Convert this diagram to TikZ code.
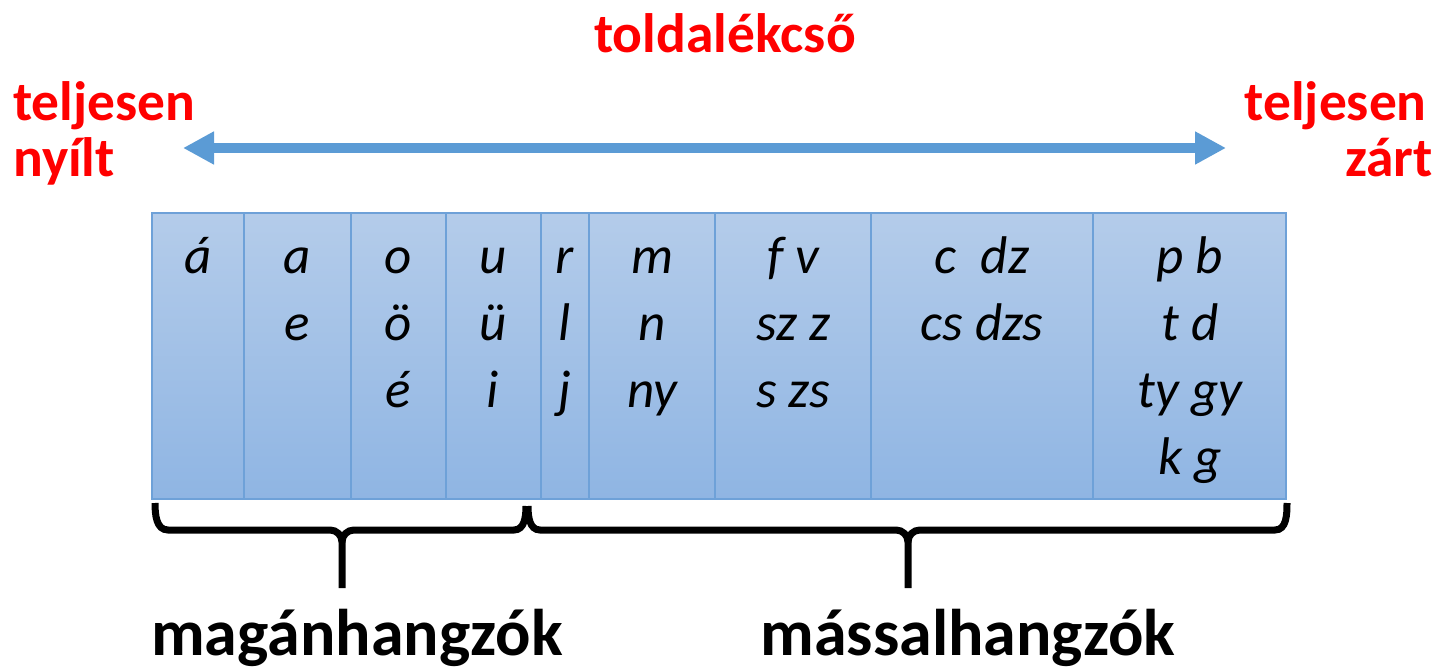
\documentclass[tikz,border=0pt]{standalone}
\usepackage{fontspec}
\setmainfont{Carlito}
\usetikzlibrary{arrows.meta, positioning}

\definecolor{scaleblue}{RGB}{91,155,213}
\definecolor{boxtop}{RGB}{180,204,234}
\definecolor{boxbottom}{RGB}{143,181,227}
\definecolor{boxline}{RGB}{110,161,216}

\begin{document}
\begin{tikzpicture}[x=1pt,y=-1pt,
	redlabel/.style={text=red,font=\fontsize{55.5}{60}\selectfont\bfseries,inner sep=0pt},
	hang/.style={font=\fontsize{53}{60}\selectfont\itshape,inner sep=0pt,anchor=base},
	groupname/.style={font=\fontsize{66}{70}\selectfont\bfseries,inner sep=0pt,anchor=base},
	bracket/.style={line width=7pt}]
	
	\useasboundingbox (0,0) rectangle (1438,671);
	
	% labels above
	\node (chain) [redlabel, anchor=base] at (725,53) {toldalékcső};
	\node (open1) [redlabel, anchor=base west] at (13,121) {teljesen};
	\node (open2) [redlabel, anchor=base west] at (13,177) {nyílt};
	\node (closed1) [redlabel, anchor=base east] at (1427,121) {teljesen};
	\node (closed2) [redlabel, anchor=base east] at (1433,177) {zárt};
	
	% scale arrow
	\coordinate (openend) at (183,148);
	\coordinate (closedend) at (1226,148);
	\draw [scaleblue, line width=10pt, {Triangle[length=31pt,width=31pt]}-{Triangle[length=31pt,width=31pt]}]
	(openend) -- (closedend);
	
	% the box of sounds
	\path [top color=boxtop, bottom color=boxbottom, draw=boxline, line width=1.5pt]
	(152,213) rectangle (1286,499);
	\foreach \x in {244,351,446,541,589,715,871,1093}
		\draw [boxline, line width=1.5pt] (\x,213) -- (\x,499);
	
	\foreach \x/\sounds [count=\c] in {198/{á}, 297/{a,e}, 398/{o,ö,é}, 493/{u,ü,i},
		565/{r,l,j}, 652/{m,n,ny}, 793/{f v,sz z,s zs}, 982/{c\ \ dz,cs dzs},
		1190/{p b,t d,ty gy,k g}}
		\foreach \s [count=\r] in \sounds
			\node (h\c-\r) [hang] at (\x,{273+67*(\r-1)}) {\s};
	
	% braces
	\draw [bracket] (155,503) to[out=-90,in=180] (168,530) -- (330,530)
	to[out=0,in=90] (342,542) -- (342,588);
	\draw [bracket] (342,542) to[out=90,in=180] (354,530) -- (514,530)
	to[out=0,in=-90] (526,506);
	\draw [bracket] (528,506) to[out=-90,in=180] (540,530) -- (896,530)
	to[out=0,in=90] (908,542) -- (908,588);
	\draw [bracket] (908,542) to[out=90,in=180] (920,530) -- (1275,530)
	to[out=0,in=-90] (1287,503);
	
	% group names
	\node (vowels) [groupname] at (357,655) {magánhangzók};
	\node (consonants) [groupname] at (968,655) {mássalhangzók};
	
\end{tikzpicture}
\end{document}
